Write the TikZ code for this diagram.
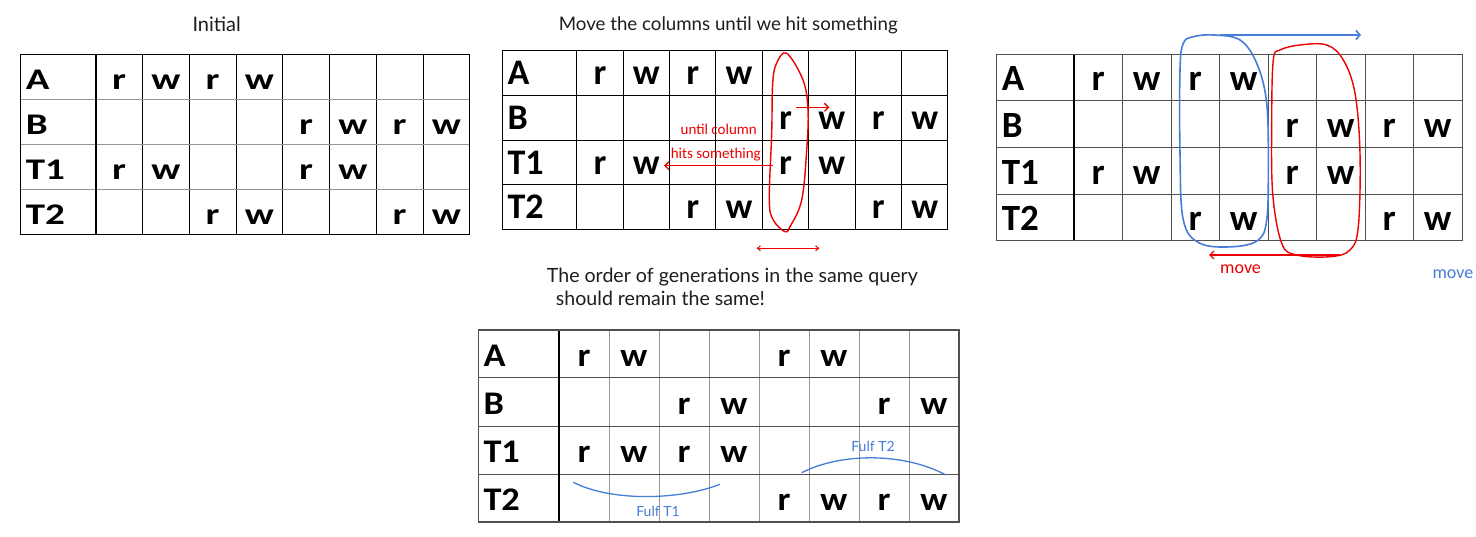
\documentclass[tikz,border=0pt]{standalone}
\usepackage{fontspec}
\setmainfont{Carlito}
\newfontfamily\handfont{Lato}
\newfontfamily\widefont{Carlito}[FakeStretch=1.3]
\newfontfamily\semiwidefont{Carlito}[FakeStretch=1.1]
\usetikzlibrary{arrows.meta}
\definecolor{annred}{RGB}{238,0,0}
\definecolor{annblue}{RGB}{70,125,215}
\definecolor{gridgray}{RGB}{150,150,150}
\definecolor{griddark}{RGB}{80,80,80}
\definecolor{inkgray}{RGB}{30,30,30}
\def\emptycell{-}
\let\cellfam\rmfamily
\tikzset{
  celltext/.style={font=\cellfam\bfseries\fontsize{#1}{#1}\selectfont, inner sep=0pt},
  vline/.style={draw=black, line width=0.9pt},
  hline/.style={draw=black, line width=0.9pt},
  sepline/.style={draw=black, line width=1.2pt},
  frame/.style={draw=black, line width=1pt},
  title/.style={font=\handfont\fontsize{#1}{#1}\selectfont, text=inkgray, inner sep=0pt},
  redtext/.style={font=\fontsize{15}{16}\selectfont, text=annred, inner sep=0pt},
  redarrow/.style={draw=annred, line width=1.3pt, -{Straight Barb[length=4pt,width=8pt]}},
  bluearrow/.style={draw=annblue, line width=1.6pt, -{Straight Barb[length=4pt,width=9pt]}},
  loopred/.style={draw=annred, line width=1.4pt},
  loopblue/.style={draw=annblue, line width=1.6pt},
  handblue/.style={font=\handfont\fontsize{14}{15}\selectfont, text=annblue, inner sep=0pt},
}
% #1 x0, #2 y0, #3 header width, #4 cell width, #5 row height
\newcommand\tabgrid[5]{%
  \foreach \k in {1,...,7} \draw[vline] ({#1+#3+\k*#4},#2) -- ({#1+#3+\k*#4},{#2+4*#5});
  \foreach \k in {1,2,3} \draw[hline] (#1,{#2+\k*#5}) -- ({#1+#3+8*#4},{#2+\k*#5});
  \draw[sepline] ({#1+#3},#2) -- ({#1+#3},{#2+4*#5});
  \draw[frame] (#1,#2) rectangle ({#1+#3+8*#4},{#2+4*#5});
}
% #1 name, #2 x0, #3 y0, #4 hw, #5 cw, #6 rh, #7 font size, #8 baseline offset, #9 rows
\newcommand\tabcells[9]{%
  \foreach \row [count=\i] in {#9} {
    \foreach \c [count=\j from 0] in \row {
      \ifx\c\emptycell\else
        \ifnum\j=0
          \node[celltext={#7}, anchor=base west] (#1-\i-\j) at ({#2+5},{#3+\i*#6-#8}) {\c};
        \else
          \node[celltext={#7}, anchor=base] (#1-\i-\j) at ({#2+#4+(\j-0.5)*#5},{#3+\i*#6-#8}) {\c};
        \fi
      \fi
    }
  }
}
\begin{document}
\begin{tikzpicture}[x=1pt,y=-1pt]
\useasboundingbox (0,0) rectangle (1476,537);
\fill[white] (0,0) rectangle (1476,537);

% titles
\node[title=20] (tInit) at (216.7,24) {Initial};
\node[title=18.7] (tMove) at (728.3,25) {Move the columns until we hit something};
\node[title=19.6, anchor=west] (tOrder1) at (546.7,277) {The order of generations in the same query};
\node[title=19.6, anchor=west] (tOrder2) at (555.7,298) {should remain the same!};

% table 1
\begin{scope}[hline/.style={draw=gridgray, line width=1.2pt}, sepline/.style={draw=black, line width=1.6pt}, frame/.style={draw=black, line width=1.2pt}]
\tabgrid{20.7}{54.3}{75}{46.75}{45}
\end{scope}
\let\cellfam\widefont
\tabcells{ta}{20.7}{54.3}{75}{46.75}{45}{30}{9.3}{{A,r,w,r,w,-,-,-,-},{B,-,-,-,-,r,w,r,w},{T1,r,w,-,-,r,w,-,-},{T2,-,-,r,w,-,-,r,w}}
\let\cellfam\rmfamily

% table 2
\tabgrid{502.3}{51}{74.4}{46.4}{44.6}
\tabcells{tb}{502.3}{51}{74.4}{46.4}{44.6}{36}{10.7}{{A,r,w,r,w,-,-,-,-},{B,-,-,-,-,r,w,r,w},{T1,r,w,-,-,r,w,-,-},{T2,-,-,r,w,-,-,r,w}}

% table 3
\begin{scope}[vline/.style={draw=griddark, line width=0.9pt}, hline/.style={draw=griddark, line width=0.9pt}, frame/.style={draw=griddark, line width=1pt}]
\tabgrid{996.7}{54.3}{77.3}{48.5}{46.6}
\end{scope}
\tabcells{tc}{996.7}{54.3}{77.3}{48.5}{46.6}{37}{10}{{A,r,w,r,w,-,-,-,-},{B,-,-,-,-,r,w,r,w},{T1,r,w,-,-,r,w,-,-},{T2,-,-,r,w,-,-,r,w}}

% table 4
\begin{scope}[vline/.style={draw=gridgray, line width=1pt}, hline/.style={draw=griddark, line width=1pt}, frame/.style={draw=griddark, line width=1.1pt}]
\tabgrid{478.3}{330}{80.7}{50}{48}
\end{scope}
\let\cellfam\semiwidefont
\tabcells{td}{478.3}{330}{80.7}{50}{48}{33}{11.6}{{A,r,w,-,-,r,w,-,-},{B,-,-,r,w,-,-,r,w},{T1,r,w,r,w,-,-,-,-},{T2,-,-,-,-,r,w,r,w}}
\let\cellfam\rmfamily

% ---- table 2 annotations
\draw[loopred] plot[smooth cycle, tension=0.6] coordinates {(786.7,53.3) (803,80) (808,110) (806.7,150) (801.7,200) (790,226.7) (785,231.7) (773.3,220) (769.3,200) (771.7,133) (772.7,83) (776.7,63)};
\coordinate (smS) at (796,107.3);
\coordinate (smE) at (829.3,107.3);
\draw[redarrow] (smS) -- (smE);
\coordinate (lgS) at (773.3,165.7);
\coordinate (lgE) at (664,165.7);
\draw[redarrow] (lgS) -- (lgE);
\node[redtext, anchor=east] (until) at (757,129.3) {until column};
\node[redtext, anchor=east] (hits) at (761,155) {hits something};
\coordinate (dbA) at (756.7,248.3);
\coordinate (dbB) at (819.3,248.3);
\draw[draw=annred, line width=1pt, {Straight Barb[length=3pt,width=5pt]}-{Straight Barb[length=3pt,width=5pt]}] (dbA) -- (dbB);

% ---- table 3 annotations
\draw[loopblue] plot[smooth cycle, tension=0.6] coordinates {(1193.3,36.7) (1213.3,35) (1240,40) (1256.7,63.3) (1266.7,103.3) (1268.3,170) (1266.7,220) (1258.3,240) (1233.3,246.7) (1200,243.3) (1183.3,220) (1180,153.3) (1180,70) (1183.3,43.3)};
\coordinate (blS) at (1220,35);
\coordinate (blE) at (1361,35);
\draw[bluearrow] (blS) -- (blE);
\draw[loopred] plot[smooth cycle, tension=0.6] coordinates {(1280,50) (1300,45) (1326.7,45) (1343.3,60) (1355,93.3) (1360,153.3) (1358.3,226.7) (1350,250) (1330,256.7) (1296.7,255) (1281.7,243.3) (1272.7,193.3) (1271.7,120) (1273.3,60)};
\coordinate (rdS) at (1340,255);
\coordinate (rdE) at (1209,255);
\draw[redarrow] (rdS) -- (rdE);
\node[font=\fontsize{18}{19}\selectfont, text=annred, inner sep=0pt, anchor=base west] (moveR) at (1220,274) {move};
\node[font=\fontsize{18}{19}\selectfont, text=annblue, inner sep=0pt, anchor=base west] (moveB) at (1432.3,278.3) {move};

% ---- table 4 annotations
\coordinate (a1S) at (573.3,482.3);
\coordinate (a1E) at (720,484.3);
\draw[loopblue, line width=1.3pt] (a1S) .. controls (612,502) and (680,500) .. (a1E);
\coordinate (a2S) at (801.7,472.7);
\coordinate (a2E) at (946,475);
\draw[loopblue, line width=1.3pt] (a2S) .. controls (842,452) and (905,453) .. (a2E);
\node[handblue] (ful1) at (658,511.7) {Fulf T1};
\node[handblue] (ful2) at (873,446.7) {Fulf T2};
\end{tikzpicture}
\end{document}
